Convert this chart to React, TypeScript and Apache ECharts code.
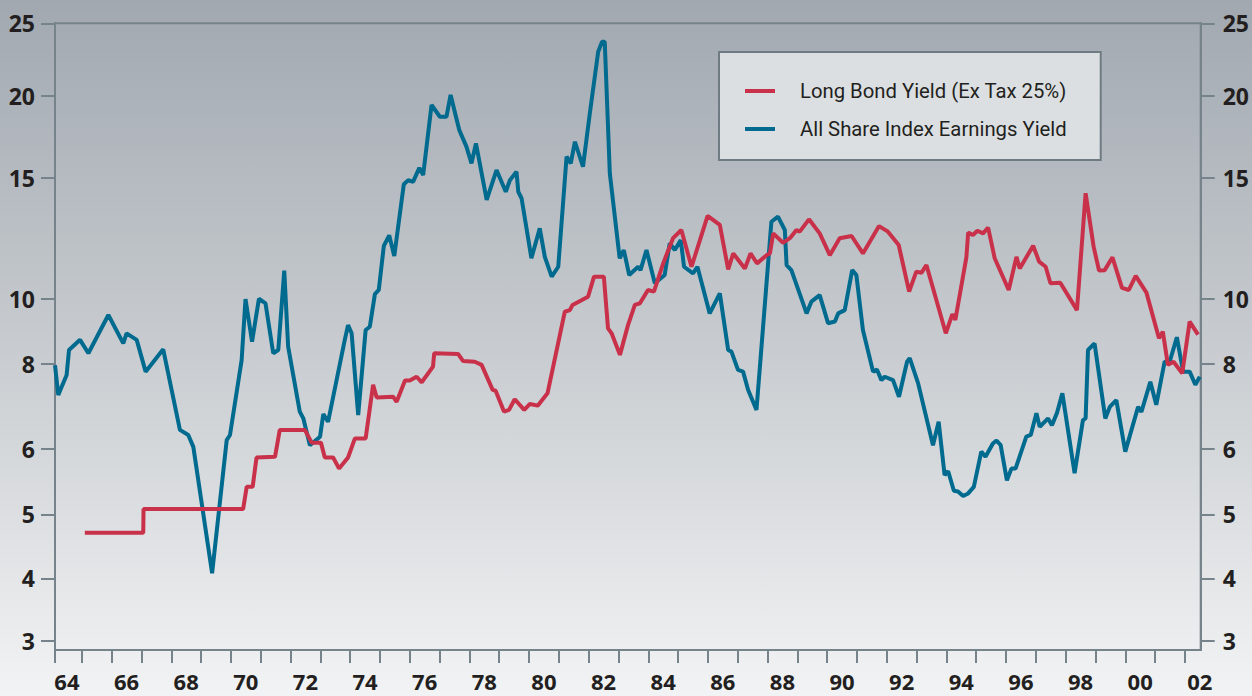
import React, { useEffect, useRef } from 'react';
import * as echarts from 'echarts';

// Y scale (the original chart uses a non-uniform, hand-drawn scale)
const Y_TICK_VALUES = [3, 4, 5, 6, 8, 10, 15, 20, 25];
const Y_TICK_POS = [9.3, 71.7, 135.7, 201, 286, 351.3, 472.3, 554, 626.7];
const Y_MAX_POS = 626.7;

const YEAR_MIN = 1964.1;
const YEAR_MAX = 2002.53;
const YEAR_LABELS = ['64', '66', '68', '70', '72', '74', '76', '78', '80', '82', '84', '86', '88', '90', '92', '94', '96', '98', '00', '02'];

const SERIES_NAMES = ['Long Bond Yield (Ex Tax 25%)', 'All Share Index Earnings Yield'];

const LONG_BOND_YIELD: [number, number][] = [
  [1965.10, 4.71], [1967.06, 4.71], [1967.07, 5.08], [1970.41, 5.08], [1970.53, 5.42], [1970.73, 5.42],
  [1970.86, 5.87], [1971.48, 5.88], [1971.64, 6.45], [1972.48, 6.45], [1972.71, 6.15], [1973.02, 6.15],
  [1973.15, 5.87], [1973.43, 5.87], [1973.63, 5.70], [1973.93, 5.87], [1974.16, 6.25], [1974.52, 6.25],
  [1974.77, 7.51], [1974.89, 7.21], [1975.44, 7.23], [1975.56, 7.11], [1975.84, 7.61], [1976.00, 7.61],
  [1976.23, 7.70], [1976.40, 7.57], [1976.78, 7.94], [1976.82, 8.33], [1977.62, 8.31], [1977.79, 8.09],
  [1978.18, 8.07], [1978.41, 7.98], [1978.78, 7.39], [1978.88, 7.37], [1979.16, 6.88], [1979.33, 6.92],
  [1979.52, 7.17], [1979.84, 6.92], [1980.03, 7.06], [1980.29, 7.02], [1980.62, 7.31], [1981.20, 9.60],
  [1981.37, 9.65], [1981.46, 9.81], [1981.98, 10.08], [1982.18, 10.91], [1982.51, 10.91], [1982.65, 9.09],
  [1982.77, 8.94], [1983.05, 8.28], [1983.32, 9.19], [1983.55, 9.81], [1983.72, 9.86], [1983.99, 10.36],
  [1984.19, 10.29], [1984.50, 11.46], [1984.83, 12.50], [1985.11, 12.84], [1985.45, 11.32], [1985.99, 13.42],
  [1986.40, 13.05], [1986.68, 11.21], [1986.85, 11.87], [1987.24, 11.25], [1987.43, 11.87], [1987.65, 11.46],
  [1987.97, 11.80], [1988.08, 11.87], [1988.19, 12.70], [1988.52, 12.31], [1988.75, 12.50], [1988.97, 12.84],
  [1989.08, 12.77], [1989.39, 13.28], [1989.75, 12.70], [1990.09, 11.80], [1990.42, 12.50], [1990.82, 12.59],
  [1991.20, 11.87], [1991.74, 13.00], [1992.04, 12.77], [1992.40, 12.22], [1992.75, 10.29], [1992.99, 11.12],
  [1993.16, 11.07], [1993.33, 11.39], [1993.98, 8.94], [1994.20, 9.53], [1994.30, 9.35], [1994.67, 11.71],
  [1994.73, 12.73], [1994.89, 12.63], [1995.04, 12.81], [1995.23, 12.70], [1995.40, 12.94], [1995.62, 11.67],
  [1996.09, 10.36], [1996.35, 11.73], [1996.46, 11.25], [1996.91, 12.19], [1997.11, 11.53], [1997.33, 11.32],
  [1997.49, 10.64], [1997.82, 10.66], [1998.38, 9.65], [1998.67, 14.36], [1998.94, 12.14], [1999.12, 11.16],
  [1999.31, 11.18], [1999.57, 11.71], [1999.89, 10.45], [2000.12, 10.36], [2000.35, 10.94], [2000.71, 10.25],
  [2001.13, 8.79], [2001.26, 8.99], [2001.43, 7.98], [2001.62, 8.07], [2001.91, 7.78], [2002.16, 9.30],
  [2002.44, 8.90],
];

const EARNINGS_YIELD: [number, number][] = [
  [1964.10, 7.97], [1964.21, 7.27], [1964.49, 7.74], [1964.57, 8.43], [1964.94, 8.74], [1965.22, 8.33],
  [1965.89, 9.50], [1966.39, 8.63], [1966.50, 8.94], [1966.84, 8.74], [1967.14, 7.82], [1967.73, 8.45],
  [1968.29, 6.45], [1968.57, 6.33], [1968.74, 6.05], [1969.37, 4.08], [1969.86, 6.21], [1969.97, 6.33],
  [1970.36, 8.12], [1970.49, 9.99], [1970.71, 8.68], [1970.94, 10.00], [1971.16, 9.86], [1971.42, 8.33],
  [1971.59, 8.43], [1971.79, 11.16], [1971.92, 8.53], [1972.31, 6.88], [1972.43, 6.72], [1972.65, 6.09],
  [1972.99, 6.29], [1973.10, 6.82], [1973.26, 6.64], [1973.82, 8.74], [1973.93, 9.19], [1974.05, 8.94],
  [1974.27, 6.80], [1974.52, 9.04], [1974.66, 9.14], [1974.83, 10.19], [1974.96, 10.36], [1975.13, 12.18],
  [1975.31, 12.62], [1975.48, 11.76], [1975.80, 14.73], [1975.95, 14.90], [1976.11, 14.83], [1976.32, 15.60],
  [1976.45, 15.16], [1976.73, 19.45], [1977.01, 18.73], [1977.23, 18.73], [1977.37, 20.07], [1977.66, 17.92],
  [1977.90, 16.90], [1978.07, 15.88], [1978.22, 17.10], [1978.58, 14.08], [1978.91, 15.47], [1979.22, 14.42],
  [1979.36, 14.90], [1979.58, 15.37], [1979.64, 14.42], [1979.75, 14.15], [1980.08, 11.67], [1980.36, 12.91],
  [1980.53, 11.73], [1980.76, 10.91], [1980.98, 11.32], [1981.26, 16.29], [1981.40, 15.88], [1981.54, 17.20],
  [1981.81, 15.67], [1982.04, 18.94], [1982.32, 23.05], [1982.45, 23.73], [1982.54, 23.73], [1982.71, 15.27],
  [1983.04, 11.67], [1983.18, 12.01], [1983.36, 10.98], [1983.66, 11.32], [1983.74, 11.18], [1983.94, 12.01],
  [1984.22, 10.64], [1984.55, 10.98], [1984.72, 12.29], [1984.89, 12.01], [1985.09, 12.42], [1985.20, 11.32],
  [1985.50, 11.05], [1985.65, 11.32], [1986.06, 9.55], [1986.40, 10.22], [1986.68, 8.43], [1986.79, 8.38],
  [1987.01, 7.86], [1987.18, 7.82], [1987.35, 7.39], [1987.63, 6.92], [1988.13, 13.18], [1988.35, 13.39],
  [1988.58, 12.84], [1988.64, 11.39], [1988.80, 11.18], [1989.31, 9.55], [1989.47, 9.91], [1989.75, 10.15],
  [1990.03, 9.25], [1990.26, 9.30], [1990.37, 9.55], [1990.59, 9.65], [1990.84, 11.18], [1990.98, 10.98],
  [1991.20, 9.04], [1991.54, 7.82], [1991.67, 7.87], [1991.82, 7.62], [1991.93, 7.70], [1992.21, 7.62],
  [1992.41, 7.23], [1992.68, 8.07], [1992.77, 8.18], [1993.05, 7.55], [1993.55, 6.09], [1993.74, 6.64],
  [1993.94, 5.60], [1994.06, 5.66], [1994.25, 5.36], [1994.39, 5.35], [1994.56, 5.28], [1994.73, 5.32],
  [1994.92, 5.42], [1995.17, 5.96], [1995.31, 5.88], [1995.56, 6.13], [1995.68, 6.20], [1995.82, 6.09],
  [1996.03, 5.52], [1996.18, 5.70], [1996.32, 5.70], [1996.68, 6.29], [1996.83, 6.33], [1997.02, 6.84],
  [1997.13, 6.52], [1997.41, 6.72], [1997.54, 6.56], [1997.71, 6.85], [1997.89, 7.31], [1998.30, 5.63],
  [1998.58, 6.68], [1998.67, 6.72], [1998.75, 8.43], [1998.97, 8.63], [1999.33, 6.72], [1999.48, 6.99],
  [1999.70, 7.15], [2000.00, 5.96], [2000.43, 6.99], [2000.54, 6.87], [2000.84, 7.58], [2001.04, 7.04],
  [2001.32, 8.07], [2001.49, 8.07], [2001.73, 8.82], [2001.94, 7.82], [2002.16, 7.82], [2002.35, 7.51],
  [2002.50, 7.70],
];

const RED = '#c9314b';
const BLUE = '#006a8f';
const AXIS_COLOR = '#76838b';
const LABEL_COLOR = '#231f20';
const LABEL_FONT = "'Open Sans', 'Noto Sans', sans-serif";
const LEGEND_FONT = "Roboto, 'Open Sans', sans-serif";

// piecewise scale: value -> axis position
function toPos(v: number): number {
  const n = Y_TICK_VALUES.length;
  let i = 0;
  while (i < n - 2 && v > Y_TICK_VALUES[i + 1]) i++;
  const v0 = Y_TICK_VALUES[i];
  const v1 = Y_TICK_VALUES[i + 1];
  const p0 = Y_TICK_POS[i];
  const p1 = Y_TICK_POS[i + 1];
  return p0 + ((v - v0) / (v1 - v0)) * (p1 - p0);
}

function posLabel(p: number): string {
  let best = 0;
  for (let i = 0; i < Y_TICK_POS.length; i++) {
    if (Math.abs(Y_TICK_POS[i] - p) < Math.abs(Y_TICK_POS[best] - p)) best = i;
  }
  return String(Y_TICK_VALUES[best]);
}

const X_TICKS: number[] = [YEAR_MIN];
for (let y = 1965; y <= 2002; y++) X_TICKS.push(y);
const X_LABEL_POS: number[] = YEAR_LABELS.map((_, i) => 1964.5 + i * 2);

function yAxis(position: 'left' | 'right', margin: number) {
  return {
    type: 'value',
    position,
    min: 0,
    max: Y_MAX_POS,
    axisLine: { show: true, lineStyle: { color: AXIS_COLOR, width: 2 } },
    axisTick: {
      show: true,
      length: 14,
      customValues: Y_TICK_POS,
      lineStyle: { color: AXIS_COLOR, width: 2 },
    },
    axisLabel: {
      customValues: Y_TICK_POS,
      formatter: (v: number) => posLabel(v),
      margin,
      fontSize: 23,
      fontWeight: 'bold',
      color: LABEL_COLOR,
      fontFamily: LABEL_FONT,
    },
    splitLine: { show: false },
  };
}

export default function App() {
  const ref = useRef<HTMLDivElement>(null);
  useEffect(() => {
    document.body.style.margin = '0';
    const chart = echarts.init(ref.current!, undefined, { renderer: 'svg' });
    chart.setOption({
      animation: false,
      grid: {
        left: 55,
        right: 51,
        top: 23.3,
        bottom: 46,
        show: true,
        borderColor: AXIS_COLOR,
        borderWidth: 2,
        backgroundColor: 'transparent',
      },
      legend: {
        orient: 'vertical',
        left: 719,
        top: 52,
        data: SERIES_NAMES,
        icon: 'rect',
        itemWidth: 30,
        itemHeight: 4,
        itemGap: 14,
        selectedMode: false,
        padding: [27, 34, 19, 26],
        backgroundColor: '#dcdfe2',
        borderColor: '#6f7b83',
        borderWidth: 2,
        textStyle: {
          fontSize: 20.3,
          lineHeight: 24,
          color: LABEL_COLOR,
          fontFamily: LEGEND_FONT,
          padding: [0, 0, 0, 20],
        },
      },
      xAxis: {
        type: 'value',
        min: YEAR_MIN,
        max: YEAR_MAX,
        axisLine: { show: true, lineStyle: { color: AXIS_COLOR, width: 2 } },
        axisTick: {
          show: true,
          length: 13,
          customValues: X_TICKS,
          lineStyle: { color: AXIS_COLOR, width: 2 },
        },
        axisLabel: {
          customValues: X_LABEL_POS,
          formatter: (v: number) => YEAR_LABELS[Math.round((v - 1964.5) / 2)] ?? '',
          margin: 20,
          fontSize: 22,
          lineHeight: 22,
          fontWeight: 'bold',
          color: LABEL_COLOR,
          fontFamily: LABEL_FONT,
        },
        splitLine: { show: false },
      },
      yAxis: [yAxis('left', 20), yAxis('right', 22)],
      series: [
        {
          name: SERIES_NAMES[1],
          type: 'line',
          showSymbol: false,
          color: BLUE,
          lineStyle: { color: BLUE, width: 4 },
          data: EARNINGS_YIELD.map(([yr, v]) => [yr, toPos(v)]),
        },
        {
          name: SERIES_NAMES[0],
          type: 'line',
          showSymbol: false,
          color: RED,
          lineStyle: { color: RED, width: 4 },
          data: LONG_BOND_YIELD.map(([yr, v]) => [yr, toPos(v)]),
        },
      ],
    });
    return () => chart.dispose();
  }, []);
  return (
    <div
      ref={ref}
      style={{
        position: 'absolute',
        left: 0,
        top: 0,
        width: 1252,
        height: 696,
        background: 'linear-gradient(to bottom, #a1a8b0 0%, #c8ccd0 50%, #f2f3f4 100%)',
      }}
    />
  );
}
